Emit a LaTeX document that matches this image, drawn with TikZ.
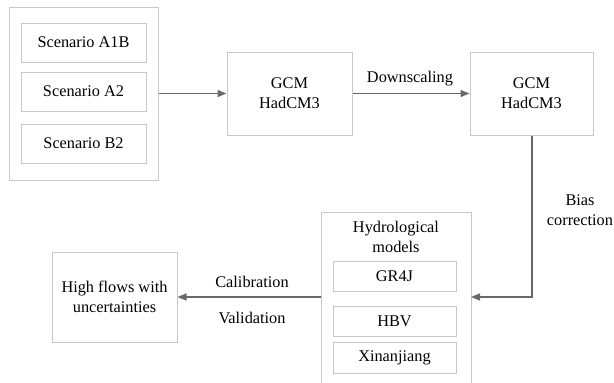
\documentclass[tikz,border=0pt]{standalone}
\usepackage{fontspec}
\setmainfont{Liberation Serif}
\usetikzlibrary{arrows.meta,positioning,calc}
\begin{document}
\begin{tikzpicture}[x=1pt,y=-1pt,
  box/.style={draw=boxgray,line width=1pt,inner sep=0pt,align=center,font=\fontsize{16.3}{20}\selectfont},
  lbl/.style={inner sep=0pt,align=center,font=\fontsize{16.3}{20}\selectfont},
  conn/.style={draw=arrgray,line width=1.4pt,-{Triangle[length=9pt,width=7pt]}}]
\definecolor{boxgray}{RGB}{200,200,200}
\definecolor{arrgray}{RGB}{105,105,105}
\useasboundingbox (0,0) rectangle (614,383);
% scenarios group
\node[box,minimum width=149pt,minimum height=173pt] (grp) at (83.5,93.5) {};
\node[box,minimum width=125pt,minimum height=39pt] (a1b) at (83.5,42.5) {Scenario A1B};
\node[box,minimum width=125pt,minimum height=39pt] (a2) at (83.5,91.5) {Scenario A2};
\node[box,minimum width=125pt,minimum height=39pt] (b2) at (83.5,143.5) {Scenario B2};
% GCMs
\node[box,minimum width=125pt,minimum height=83pt] (gcm1) at (289.5,93.5) {GCM\\HadCM3};
\node[box,minimum width=123pt,minimum height=83pt] (gcm2) at (531.5,93.5) {GCM\\HadCM3};
% hydrological models (open at bottom)
\coordinate (hyTL) at (321,212);
\coordinate (hyTR) at (471,212);
\draw[boxgray,line width=1pt] (321,390) -- (hyTL) -- (hyTR) -- (471,390);
\coordinate (hyL) at (321,297);
\coordinate (hyR) at (471,297);
\node[lbl] (hytitle) at (396,237) {Hydrological\\models};
\node[box,minimum width=123pt,minimum height=30pt] (gr4j) at (394.5,276) {GR4J};
\node[box,minimum width=123pt,minimum height=30pt] (hbv) at (394.5,321) {HBV};
\node[box,minimum width=123pt,minimum height=31pt] (xin) at (394.5,357.5) {Xinanjiang};
% high flows
\node[box,minimum width=125pt,minimum height=90pt] (hf) at (114.5,297) {High flows with\\uncertainties};
% connectors
\draw[conn] (grp.east |- gcm1) -- (gcm1.west);
\draw[conn] (gcm1.east) -- (gcm2.west);
\node[lbl] (ds) at (410,79) {Downscaling};
\coordinate (bend) at (532,297);
\draw[conn] (gcm2.south -| bend) -- (bend) -- (hyR);
\node[lbl] (bias) at (580,210) {Bias\\correction};
\draw[conn] (hyL) -- (hf.east);
\node[lbl] (cal) at (252,282) {Calibration};
\node[lbl] (val) at (252,318) {Validation};
\end{tikzpicture}
\end{document}
